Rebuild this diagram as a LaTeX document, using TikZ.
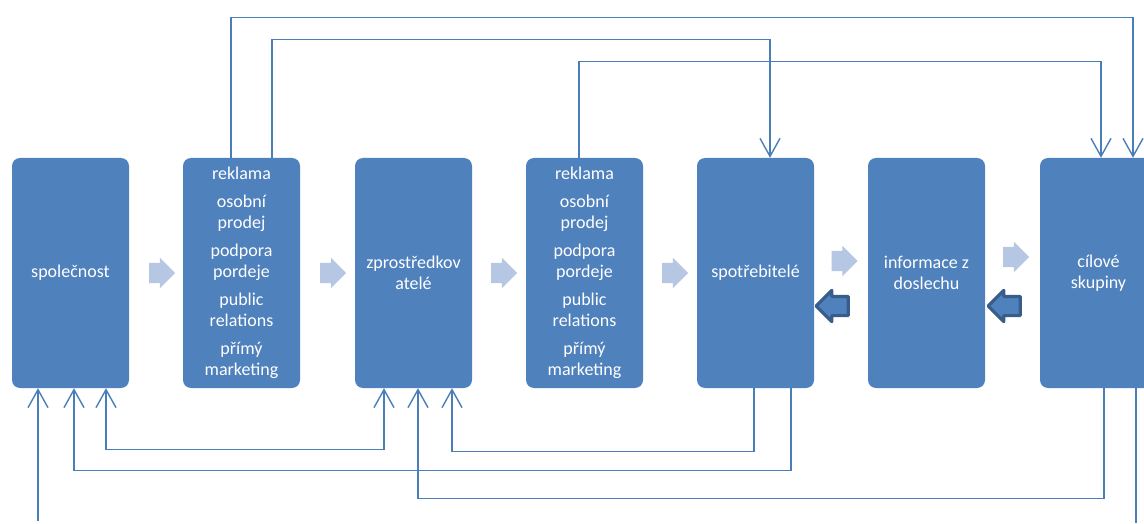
\documentclass[tikz,border=0pt]{standalone}
\usepackage{fontspec}
\setmainfont{Carlito}
\usetikzlibrary{arrows.meta,shapes.arrows}
\definecolor{boxblue}{HTML}{4F81BD}
\definecolor{lineblue}{HTML}{4A7EBB}
\definecolor{lightarrow}{RGB}{181,199,226}
\definecolor{darkedge}{HTML}{385D8A}
\tikzset{
  box/.style={fill=boxblue, rounded corners=8pt, minimum width=117pt, minimum height=230pt,
    text=white, align=center, inner sep=0pt, font=\fontsize{18}{21}\selectfont},
  barb/.tip={Straight Barb[length=18pt,width=20pt]},
  conn/.style={draw=lineblue, line width=1.4pt, -barb},
  forward/.style={single arrow, fill=lightarrow, inner sep=0pt, minimum height=26pt,
    minimum width=30pt, single arrow head extend=5pt},
  backward/.style={single arrow, shape border rotate=180, fill=boxblue, draw=darkedge,
    line width=3.2pt, line join=round, inner sep=0pt, minimum height=32pt,
    minimum width=28pt, single arrow head extend=6pt},
}
\begin{document}
\begin{tikzpicture}[x=1pt,y=1pt]
\useasboundingbox (0,0) rectangle (1144,523);
% bloky
\node[box] (spol) at (70.5,250) {společnost};
\node[box] (nast1) at (241.5,250) {reklama\\[7pt] osobní\\prodej\\[7pt] podpora\\pordeje\\[7pt] public\\relations\\[7pt] přímý\\marketing};
\node[box] (zpro) at (413.5,250) {zprostředkov\\atelé};
\node[box] (nast2) at (584.5,250) {reklama\\[7pt] osobní\\prodej\\[7pt] podpora\\pordeje\\[7pt] public\\relations\\[7pt] přímý\\marketing};
\node[box] (spotr) at (755.5,250) {spotřebitelé};
\node[box] (info) at (926.5,250) {informace z\\doslechu};
\node[box] (cil) at (1098.5,250) {cílové\\skupiny};

% sipky mezi bloky
\node[forward] (f1) at (157,250) {\rule{0pt}{20pt}};
\node[forward] (f2) at (328,250) {\rule{0pt}{20pt}};
\node[forward] (f3) at (499,250) {\rule{0pt}{20pt}};
\node[forward] (f4) at (670,250) {\rule{0pt}{20pt}};
\node[forward] (f5) at (839.5,262) {\rule{0pt}{20pt}};
\node[forward] (f6) at (1011,266) {\rule{0pt}{20pt}};
\node[backward] (b1) at (837,217) {\rule{0pt}{16pt}};
\node[backward] (b2) at (1009,217) {\rule{0pt}{16pt}};

% vazby nahore
\draw[conn] ([xshift=-10.5pt]nast1.north) -- ++(0,140) -| ([xshift=34.5pt]cil.north);
\draw[conn] ([xshift=30.5pt]nast1.north) -- ++(0,118) -| ([xshift=14.5pt]spotr.north);
\draw[conn] ([xshift=-5.5pt]nast2.north) -- ++(0,96) -| ([xshift=2.5pt]cil.north);

% vazby dole
\draw[conn,barb-barb] ([xshift=35.5pt]spol.south) -- ++(0,-61) -| ([xshift=-29.5pt]zpro.south);
\draw[conn] ([xshift=35.5pt]spotr.south) -- ++(0,-82) -| ([xshift=3.5pt]spol.south);
\draw[conn] ([xshift=-1.5pt]spotr.south) -- ++(0,-63) -| ([xshift=38.5pt]zpro.south);
\draw[conn] ([xshift=5.5pt]cil.south) -- ++(0,-110) -| ([xshift=4.5pt]zpro.south);
\coordinate (vystup) at (1136,0);
\coordinate (vstup) at (38,2);
\draw[conn,-] ([xshift=37.5pt]cil.south) -- (vystup);
\draw[conn] (vstup) -- ([xshift=-32.5pt]spol.south);
\end{tikzpicture}
\end{document}
